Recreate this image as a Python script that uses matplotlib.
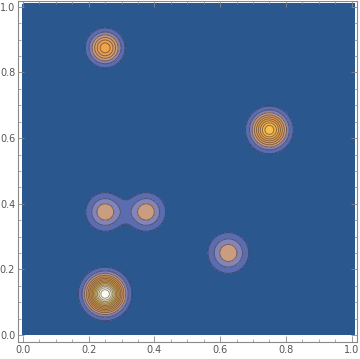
import numpy as np
import matplotlib
matplotlib.use("Agg")
import matplotlib.pyplot as plt
from matplotlib.colors import LinearSegmentedColormap

# bump centres, heights and widths
cx = [0.25, 0.75, 0.25, 0.375, 0.625, 0.25]
cy = [0.875, 0.625, 0.375, 0.375, 0.25, 0.125]
amp = [0.45, 0.65, 0.253, 0.253, 0.253, 1.0]
sig = [0.031, 0.034, 0.036, 0.036, 0.038, 0.035]

tick_vals = [0.0, 0.2, 0.4, 0.6, 0.8, 1.0]
tick_labels = ["0.0", "0.2", "0.4", "0.6", "0.8", "1.0"]

x = np.linspace(0, 1.01, 500)
y = np.linspace(0, 1.01, 500)
X, Y = np.meshgrid(x, y)
Z = np.zeros_like(X)
for a, b, h, s in zip(cx, cy, amp, sig):
    Z += h * np.exp(-((X - a) ** 2 + (Y - b) ** 2) / (2 * s ** 2))

# Mathematica-like default density gradient
cmap = LinearSegmentedColormap.from_list("mma", [
    (0.0, (0.17, 0.34, 0.56)),
    (0.04, (0.17, 0.34, 0.56)),
    (0.10, (0.36, 0.43, 0.70)),
    (0.167, (0.52, 0.52, 0.72)),
    (0.233, (0.80, 0.62, 0.50)),
    (0.30, (0.87, 0.62, 0.40)),
    (0.43, (0.94, 0.64, 0.28)),
    (0.63, (0.97, 0.74, 0.30)),
    (0.78, (1.0, 0.87, 0.52)),
    (0.88, (1.0, 0.96, 0.82)),
    (1.0, (1.0, 1.0, 0.97)),
])

levels = np.linspace(0, 1.0, 16)
levels = np.append(levels, 1.2)

fig = plt.figure(figsize=(3.6, 3.59), dpi=100)
ax = fig.add_axes([0.05, 0.0474, 0.9417, 0.95])
ax.contourf(X, Y, Z, levels=levels, cmap=cmap, vmin=0, vmax=1.0)
ax.contour(X, Y, Z, levels=levels[1:-1], colors="#2a2a3a", linewidths=0.7, alpha=0.55)

ax.set_xlim(-0.0152, 1.0167)
ax.set_ylim(-0.0213, 1.018)
ax.set_xticks(tick_vals)
ax.set_xticklabels(tick_labels)
ax.set_yticks(tick_vals)
ax.set_yticklabels(tick_labels)
ax.set_xticks(np.arange(0, 1.001, 0.05), minor=True)
ax.set_yticks(np.arange(0, 1.001, 0.05), minor=True)
ax.tick_params(which="both", direction="in", top=True, right=True, color="#888888",
               labelsize=7, labelcolor="#555555", pad=2)
ax.tick_params(which="major", length=4, width=0.6)
ax.tick_params(which="minor", length=2.5, width=0.5)
for sp in ax.spines.values():
    sp.set_color("#888888")
    sp.set_linewidth(0.8)

fig.savefig("out.png", dpi=100)
